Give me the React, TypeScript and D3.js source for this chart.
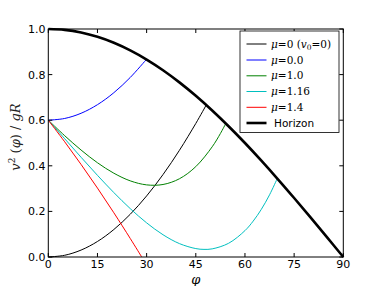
import React from "react";
import * as d3 from "d3";

const W = 382;
const H = 286;

const xTicks = [0, 15, 30, 45, 60, 75, 90];
const yTicks = [0, 0.2, 0.4, 0.6, 0.8, 1.0];

// mu = 0, v0 = 0
const phiFree = [0, 5, 10, 15, 20, 25, 30, 35, 40, 45, 48.19];
const uFree = [0, 0.0076, 0.0304, 0.0681, 0.1206, 0.1874, 0.2679, 0.3616, 0.4679, 0.5858, 0.6667];

// mu = 0.0
const phiMu0 = [0, 5, 10, 15, 20, 25, 29.93];
const uMu0 = [0.6, 0.6076, 0.6304, 0.6681, 0.7206, 0.7874, 0.8667];

// mu = 1.0
const phiMu1 = [0, 5, 10, 15, 20, 25, 30, 35, 40, 45, 50, 52.5, 54.15];
const uMu1 = [0.6, 0.532, 0.4691, 0.4134, 0.3675, 0.334, 0.3163, 0.318, 0.3431, 0.3964, 0.4834, 0.5415, 0.5856];

// mu = 1.16
const phiMu116 = [0, 5, 10, 15, 20, 25, 30, 35, 40, 45, 47.5, 50, 55, 60, 62.5, 65, 67.5, 69.86];
const uMu116 = [0.6, 0.5187, 0.4375, 0.3582, 0.2825, 0.2122, 0.1497, 0.0976, 0.0588, 0.0369, 0.0334, 0.0357, 0.0601, 0.1157, 0.1573, 0.2092, 0.2727, 0.3443];

// mu = 1.4
const phiMu14 = [0, 5, 10, 15, 20, 25, 28.5];
const uMu14 = [0.6, 0.5053, 0.406, 0.3023, 0.194, 0.0813, 0.0];

// Horizon
const phiHorizon = [0, 5, 10, 15, 20, 25, 30, 35, 40, 45, 50, 55, 60, 65, 70, 75, 80, 85, 90];
const uHorizon = [1, 0.9962, 0.9848, 0.9659, 0.9397, 0.9063, 0.866, 0.8192, 0.766, 0.7071, 0.6428, 0.5736, 0.5, 0.4226, 0.342, 0.2588, 0.1736, 0.0872, 0];

const seriesLabels = ["free", "mu0", "mu1", "mu116", "mu14", "horizon"];

export default function App() {
  const left = 48.3;
  const right = 343.3;
  const top = 29;
  const bottom = 257;

  const x = d3.scaleLinear().domain([0, 90]).range([left, right]);
  const y = d3.scaleLinear().domain([0, 1]).range([bottom, top]);

  const line = d3
    .line<[number, number]>()
    .x((d) => x(d[0]))
    .y((d) => y(d[1]))
    .curve(d3.curveCatmullRom.alpha(0.5));

  const zip = (a: number[], b: number[]) => a.map((v, i) => [v, b[i]] as [number, number]);

  const series = [
    { key: seriesLabels[0], pts: zip(phiFree, uFree), color: "#000000", w: 1 },
    { key: seriesLabels[1], pts: zip(phiMu0, uMu0), color: "#0000ff", w: 1 },
    { key: seriesLabels[2], pts: zip(phiMu1, uMu1), color: "#008000", w: 1 },
    { key: seriesLabels[3], pts: zip(phiMu116, uMu116), color: "#00bfbf", w: 1 },
    { key: seriesLabels[4], pts: zip(phiMu14, uMu14), color: "#ff0000", w: 1 },
    { key: seriesLabels[5], pts: zip(phiHorizon, uHorizon), color: "#000000", w: 2.6 },
  ];

  const mathFont = "'DejaVu Serif', serif";
  const sansFont = "'DejaVu Sans', sans-serif";

  const legendX = 240;
  const legendY = 31;
  const legendW = 99;
  const legendH = 101.5;
  const rowY = [44, 60, 75.8, 91.5, 107.3, 123];

  const legendLabels: React.ReactNode[] = [
    <>
      <tspan fontStyle="italic">μ</tspan>
      <tspan>=0 (</tspan>
      <tspan fontStyle="italic">v</tspan>
      <tspan fontSize={7.5} dy={2.5}>0</tspan>
      <tspan dy={-2.5}>=0)</tspan>
    </>,
    <>
      <tspan fontStyle="italic">μ</tspan>
      <tspan>=0.0</tspan>
    </>,
    <>
      <tspan fontStyle="italic">μ</tspan>
      <tspan>=1.0</tspan>
    </>,
    <>
      <tspan fontStyle="italic">μ</tspan>
      <tspan>=1.16</tspan>
    </>,
    <>
      <tspan fontStyle="italic">μ</tspan>
      <tspan>=1.4</tspan>
    </>,
  ];

  return (
    <svg width={W} height={H} style={{ position: "absolute", left: 0, top: 0, background: "#fff" }}>
      <defs>
        <clipPath id="plotclip">
          <rect x={left} y={top - 2} width={right - left + 2} height={bottom - top + 4} />
        </clipPath>
      </defs>
      <rect x={0} y={0} width={W} height={H} fill="#fff" />

      <g clipPath="url(#plotclip)">
        {series.map((s) => (
          <path key={s.key} d={line(s.pts) || ""} fill="none" stroke={s.color} strokeWidth={s.w} strokeLinejoin="round" />
        ))}
      </g>

      {/* frame */}
      <rect x={left} y={top} width={right - left} height={bottom - top} fill="none" stroke="#000" strokeWidth={1} />

      {/* ticks */}
      {xTicks.map((t) => (
        <g key={"xt" + t}>
          <line x1={x(t)} x2={x(t)} y1={bottom} y2={bottom - 4} stroke="#000" strokeWidth={1} />
          <line x1={x(t)} x2={x(t)} y1={top} y2={top + 4} stroke="#000" strokeWidth={1} />
          <text x={x(t)} y={268} textAnchor="middle" fontFamily={sansFont} fontSize={11} fill="#000">
            {t}
          </text>
        </g>
      ))}
      {yTicks.map((t) => (
        <g key={"yt" + t}>
          <line x1={left} x2={left + 4} y1={y(t)} y2={y(t)} stroke="#000" strokeWidth={1} />
          <line x1={right} x2={right - 4} y1={y(t)} y2={y(t)} stroke="#000" strokeWidth={1} />
          <text x={45.5} y={y(t) + 4} textAnchor="end" fontFamily={sansFont} fontSize={11} fill="#000">
            {t.toFixed(1)}
          </text>
        </g>
      ))}

      {/* x label */}
      <text x={(left + right) / 2} y={284} textAnchor="middle" fontFamily={mathFont} fontStyle="italic" fontSize={13} fill="#000">
        φ
      </text>

      {/* y label */}
      <text
        transform={`translate(20, ${(top + bottom) / 2 - 6}) rotate(-90)`}
        textAnchor="middle"
        fontFamily={mathFont}
        fontSize={13}
        fill="#222"
      >
        <tspan fontStyle="italic">v</tspan>
        <tspan fontSize={9} dy={-5}>2</tspan>
        <tspan dy={5}> (</tspan>
        <tspan fontStyle="italic">φ</tspan>
        <tspan>) / </tspan>
        <tspan fontStyle="italic">gR</tspan>
      </text>

      {/* legend */}
      <rect x={legendX} y={legendY} width={legendW} height={legendH} fill="#fff" stroke="#000" strokeWidth={0.8} />
      {series.map((s, i) => (
        <g key={"lg" + s.key}>
          <line x1={246.5} x2={266.5} y1={rowY[i]} y2={rowY[i]} stroke={s.color} strokeWidth={s.w} />
          {i < 5 ? (
            <text x={271} y={rowY[i] + 3.5} fontFamily={mathFont} fontSize={10.5} fill="#000">
              {legendLabels[i]}
            </text>
          ) : (
            <text x={274} y={rowY[i] + 4} fontFamily={sansFont} fontSize={10.5} fill="#000">
              Horizon
            </text>
          )}
        </g>
      ))}
    </svg>
  );
}
